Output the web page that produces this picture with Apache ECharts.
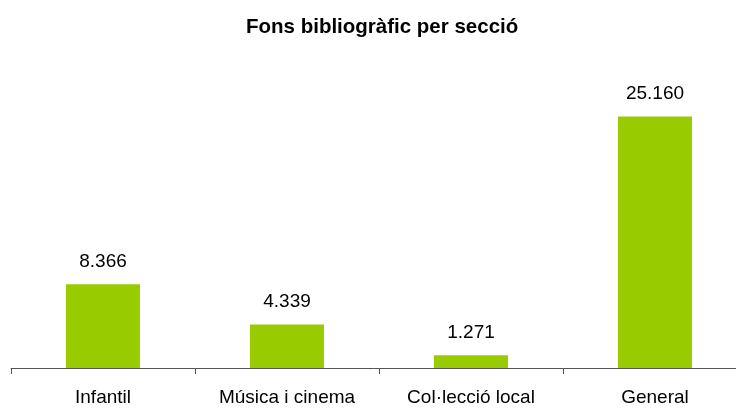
<!DOCTYPE html>
<html>
<head>
<meta charset="utf-8">
<script src="https://cdn.jsdelivr.net/npm/echarts@6/dist/echarts.min.js"></script>
<style>html,body{margin:0;padding:0;background:#fff}#c{width:736px;height:409px}</style>
</head>
<body>
<div id="c"></div>
<script>
var categories = ['Infantil', 'Música i cinema', 'Col·lecció local', 'General'];
var values = [8366, 4339, 1271, 25160];
var titleText = 'Fons bibliogràfic per secció';

function fmt(v) {
  return String(v).replace(/\B(?=(\d{3})+(?!\d))/g, '.');
}

var chart = echarts.init(document.getElementById('c'), null, {renderer: 'canvas'});
chart.setOption({
  animation: false,
  backgroundColor: '#ffffff',
  title: {
    text: titleText,
    left: 241,
    top: 12,
    textStyle: {fontFamily: 'Liberation Sans, Arial, sans-serif', fontSize: 20.5, fontWeight: 'bold', color: '#000'}
  },
  grid: {left: 11, top: 68, width: 736, height: 300, containLabel: false, outerBoundsMode: 'none'},
  xAxis: {
    type: 'category',
    data: categories,
    boundaryGap: true,
    axisLine: {lineStyle: {color: '#555', width: 1}},
    axisTick: {show: true, length: 6, alignWithLabel: false, lineStyle: {color: '#555'}},
    axisLabel: {margin: 20, fontFamily: 'Liberation Sans, Arial, sans-serif', fontSize: 19, color: '#000', interval: 0}
  },
  yAxis: {
    type: 'value',
    min: 0,
    max: 30000,
    show: false,
    splitLine: {show: false}
  },
  series: [{
    type: 'bar',
    data: values,
    barWidth: 74,
    itemStyle: {color: '#99CC00'},
    label: {
      show: true,
      position: 'top',
      distance: 13,
      fontFamily: 'Liberation Sans, Arial, sans-serif',
      fontSize: 19,
      color: '#000',
      formatter: function (p) { return fmt(p.value); }
    }
  }]
});
</script>
</body>
</html>
